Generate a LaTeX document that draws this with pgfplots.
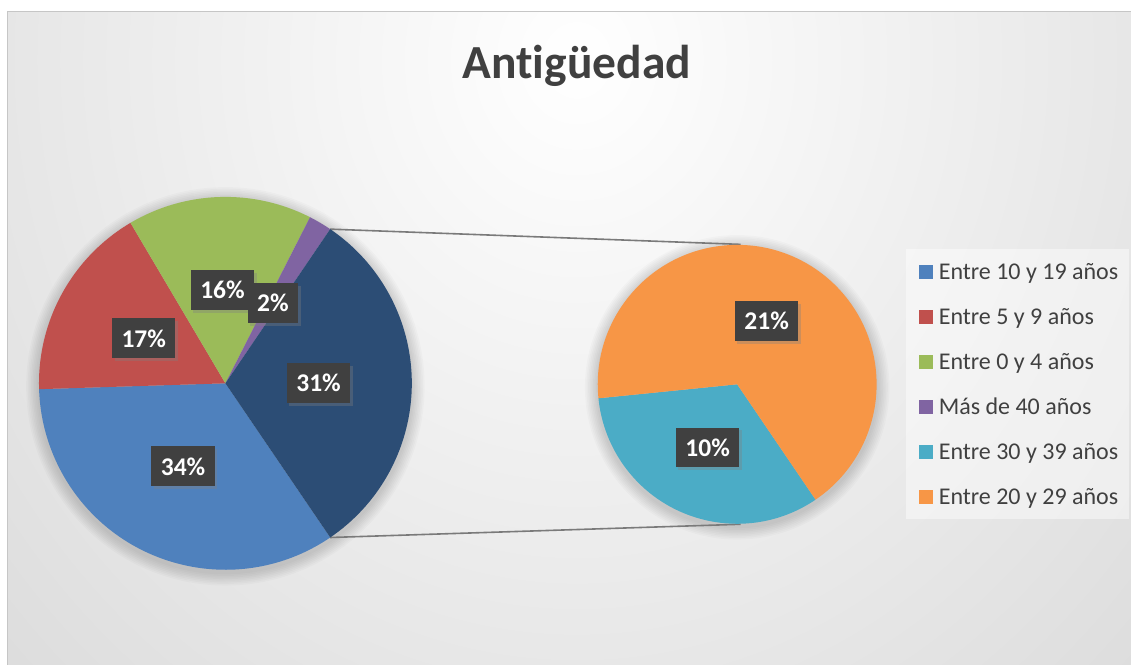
\documentclass[border=0pt]{standalone}
\usepackage{pgfplots}
\usepackage{pgfplotstable}
\pgfplotsset{compat=1.18}
\usepackage{fontspec}
\setmainfont{Carlito}[Ligatures=CommonOff, Contextuals=NoAlternate]
\usetikzlibrary{shadows}

\definecolor{cblue}{HTML}{4F81BD}
\definecolor{cred}{HTML}{C0504D}
\definecolor{cgreen}{HTML}{9BBB59}
\definecolor{cpurple}{HTML}{8064A2}
\definecolor{caqua}{HTML}{4BACC6}
\definecolor{corange}{HTML}{F79646}
\definecolor{cother}{HTML}{2C4D75}
\definecolor{txt}{HTML}{404040}
\definecolor{lblfill}{HTML}{404040}
\definecolor{bgout}{HTML}{D0D0D0}
\definecolor{conn}{HTML}{7A7A7A}

% first pie: four categories and the rest (= second pie)
\pgfplotstableread[col sep=comma]{
val,col,name
34,cblue,Entre 10 y 19 años
17,cred,Entre 5 y 9 años
16,cgreen,Entre 0 y 4 años
2,cpurple,Más de 40 años
31,cother,Otros
}\mainpie
% second pie
\pgfplotstableread[col sep=comma]{
val,col,name
10.2,caqua,Entre 30 y 39 años
20.8,corange,Entre 20 y 29 años
}\subpie

\newcommand\legfont{\fontsize{24}{28}\selectfont}
\newcommand\lblfont{\fontsize{25.5}{30}\selectfont\bfseries}

% #1 table, #2 prefix, #3 start angle, #4 total of the pie
\newcommand\slicedefs[4]{%
  \pgfplotstablegetrowsof{#1}%
  \pgfmathtruncatemacro\nlast{\pgfplotsretval-1}%
  \xdef\cur{#3}%
  \foreach \i in {0,...,\nlast}{%
    \pgfplotstablegetelem{\i}{val}\of#1\let\thisval\pgfplotsretval
    \pgfplotstablegetelem{\i}{col}\of#1\let\thiscol\pgfplotsretval
    \pgfplotstablegetelem{\i}{name}\of#1\let\thisname\pgfplotsretval
    \pgfmathsetmacro\thisend{\cur-\thisval/#4*360}%
    \pgfmathsetmacro\thismid{(\cur+\thisend)/2}%
    \pgfmathtruncatemacro\thispct{round(\thisval)}%
    \expandafter\xdef\csname #2s\i\endcsname{\cur}%
    \expandafter\xdef\csname #2e\i\endcsname{\thisend}%
    \expandafter\xdef\csname #2m\i\endcsname{\thismid}%
    \expandafter\xdef\csname #2c\i\endcsname{\thiscol}%
    \expandafter\xdef\csname #2n\i\endcsname{\thisname}%
    \expandafter\xdef\csname #2l\i\endcsname{\thispct}%
    \xdef\cur{\thisend}%
  }%
}

\pgfplotstablegetelem{4}{val}\of\mainpie
\let\otherval\pgfplotsretval
\pgfmathsetmacro\startang{-\otherval*3.6/2}
\slicedefs{\mainpie}{m}{\startang}{100}
\slicedefs{\subpie}{s}{\startang}{\otherval}

\begin{document}
\begin{tikzpicture}[
  lbl/.style={fill=lblfill, text=white, font=\lblfont, inner xsep=9.5pt,
    minimum height=40pt,
    drop shadow={shadow xshift=2.5pt, shadow yshift=-2.5pt, opacity=0.35}}]
\begin{axis}[
    hide axis,
    scale only axis,
    width=1131pt, height=665pt,
    xmin=0, xmax=1131, ymin=0, ymax=665,
    clip=false]

% background
\fill[white] (axis cs:0,0) rectangle (axis cs:1131,665);
\begin{scope}
  \clip (axis cs:8,0) rectangle (axis cs:1131,653);
  \fill[bgout] (axis cs:8,0) rectangle (axis cs:1131,653);
  \shade[inner color=white, outer color=bgout] (axis cs:577,605) ellipse[x radius=1080pt, y radius=1200pt];
\end{scope}
\draw[gray!45, line width=1pt] (axis cs:1131,653) -- (axis cs:8,653) -- (axis cs:8,0);

\node[anchor=base, text=txt, font=\fontsize{47.5}{56}\selectfont\bfseries] at (axis cs:577,586) {Ant\kern0pt igüedad};

% soft shadows under the pies
\foreach \k in {1,...,8}{%
  \pgfmathsetmacro\ra{186.5+1.6*\k}
  \pgfmathsetmacro\rb{139.5+1.6*\k}
  \edef\tmp{\noexpand\fill[black, opacity=0.02] (axis cs:225.5,278.5) circle[radius=\ra pt];
    \noexpand\fill[black, opacity=0.02] (axis cs:737.5,277.5) circle[radius=\rb pt];}\tmp
}

% connector lines
\draw[conn, line width=1.6pt] (axis cs:225.5,281.5) ++(-\startang:186.5pt) -- (axis cs:741,420.5);
\draw[conn, line width=1.6pt] (axis cs:225.5,281.5) ++(\startang:186.5pt) -- (axis cs:741,140.5);

% first pie
\foreach \i in {0,...,4}{%
  \edef\tmp{\noexpand\fill[fill=\csname mc\i\endcsname] (axis cs:225.5,281.5) -- ++(\csname ms\i\endcsname:186.5pt)
    arc[start angle=\csname ms\i\endcsname, end angle=\csname me\i\endcsname, radius=186.5pt] -- cycle;}\tmp
}
% second pie
\foreach \i in {0,1}{%
  \edef\tmp{\noexpand\fill[fill=\csname sc\i\endcsname] (axis cs:737.5,280.5) -- ++(\csname ss\i\endcsname:139.5pt)
    arc[start angle=\csname ss\i\endcsname, end angle=\csname se\i\endcsname, radius=139.5pt] -- cycle;}\tmp
}

% data labels
\foreach \i in {0,...,4}{%
  \edef\tmp{\noexpand\path (axis cs:225.5,281.5) ++(\csname mm\i\endcsname:93.25pt)
    node[lbl] {\csname ml\i\endcsname\noexpand\%};}\tmp
}
\foreach \i in {0,1}{%
  \edef\tmp{\noexpand\path (axis cs:737.5,280.5) ++(\csname sm\i\endcsname:69.75pt)
    node[lbl] {\csname sl\i\endcsname\noexpand\%};}\tmp
}

% legend
\fill[white, opacity=0.45] (axis cs:906,416) rectangle (axis cs:1129,146);
\foreach \i in {0,...,3}{%
  \pgfmathsetmacro\yy{393-45*\i}
  \pgfmathsetmacro\yb{\yy-7.5}
  \edef\tmp{\noexpand\fill[\csname mc\i\endcsname] (axis cs:919,\yy) ++(0pt,-7pt) rectangle ++(14pt,14pt);
    \noexpand\node[anchor=base west, inner sep=0pt, text=txt, font=\noexpand\legfont] at (axis cs:939,\yb) {\csname mn\i\endcsname};}\tmp
}
\foreach \i in {0,1}{%
  \pgfmathsetmacro\yy{393-45*(\i+4)}
  \pgfmathsetmacro\yb{\yy-7.5}
  \edef\tmp{\noexpand\fill[\csname sc\i\endcsname] (axis cs:919,\yy) ++(0pt,-7pt) rectangle ++(14pt,14pt);
    \noexpand\node[anchor=base west, inner sep=0pt, text=txt, font=\noexpand\legfont] at (axis cs:939,\yb) {\csname sn\i\endcsname};}\tmp
}
\end{axis}
\end{tikzpicture}
\end{document}
